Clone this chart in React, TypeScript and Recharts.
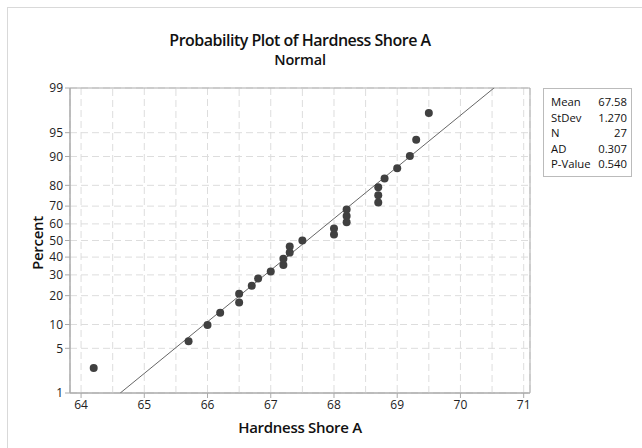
import { ScatterChart, Scatter, XAxis, YAxis, CartesianGrid, ReferenceLine, ReferenceArea } from 'recharts';

// sorted hardness readings and their plotted percent positions
const hardness = [
  64.2, 65.7, 66.0, 66.2, 66.5, 66.5, 66.7, 66.8, 67.0, 67.2, 67.2, 67.3, 67.3, 67.5,
  68.0, 68.0, 68.2, 68.2, 68.2, 68.7, 68.7, 68.7, 68.8, 69.0, 69.2, 69.3, 69.5,
];
const percent = [
  2.6, 6.2, 9.9, 13.5, 17.2, 20.8, 24.5, 28.1, 31.8, 35.4, 39.1, 42.7, 46.4, 50.0,
  53.6, 57.3, 60.9, 64.6, 68.2, 71.9, 75.5, 79.2, 82.8, 86.5, 90.1, 93.8, 97.4,
];
// fitted normal line end points (percent 1 and 99)
const fitX = [64.62, 70.53];
const fitPct = [1, 99];

const xTicks = [64, 65, 66, 67, 68, 69, 70, 71];
const xHalfGrid = [64.5, 65.5, 66.5, 67.5, 68.5, 69.5, 70.5];
const pctTicks = [1, 5, 10, 20, 30, 40, 50, 60, 70, 80, 90, 95, 99];

const stats = [
  ['Mean', '67.58'],
  ['StDev', '1.270'],
  ['N', '27'],
  ['AD', '0.307'],
  ['P-Value', '0.540'],
];

// inverse standard normal (Acklam)
function invNorm(p: number) {
  const a = [-39.69683028665376, 220.9460984245205, -275.9285104469687, 138.357751867269, -30.66479806614716, 2.506628277459239];
  const b = [-54.47609879822406, 161.5858368580409, -155.6989798598866, 66.80131188771972, -13.28068155288572];
  const c = [-0.007784894002430293, -0.3223964580411365, -2.400758277161838, -2.549732539343734, 4.374664141464968, 2.938163982698783];
  const d = [0.007784695709041462, 0.3224671290700398, 2.445134137142996, 3.754408661907416];
  const pl = 0.02425;
  if (p < pl) {
    const q = Math.sqrt(-2 * Math.log(p));
    return (((((c[0] * q + c[1]) * q + c[2]) * q + c[3]) * q + c[4]) * q + c[5]) / ((((d[0] * q + d[1]) * q + d[2]) * q + d[3]) * q + 1);
  }
  if (p > 1 - pl) {
    const q = Math.sqrt(-2 * Math.log(1 - p));
    return -(((((c[0] * q + c[1]) * q + c[2]) * q + c[3]) * q + c[4]) * q + c[5]) / ((((d[0] * q + d[1]) * q + d[2]) * q + d[3]) * q + 1);
  }
  const q = p - 0.5;
  const r = q * q;
  return ((((((a[0] * r + a[1]) * r + a[2]) * r + a[3]) * r + a[4]) * r + a[5]) * q) / (((((b[0] * r + b[1]) * r + b[2]) * r + b[3]) * r + b[4]) * r + 1);
}

const z = (pct: number) => invNorm(pct / 100);
const points = hardness.map((x, i) => ({ x, y: z(percent[i]) }));
const fit = fitX.map((x, i) => ({ x, y: z(fitPct[i]) }));
const yTicks = pctTicks.map(z);
const yMin = z(1);
const yMax = z(99);
const xMin = 63.825;
const xMax = 71.1;

const font = '"Segoe UI", "Open Sans", sans-serif';
const tickStyle = { fill: '#222', fontSize: 12, fontFamily: font };

export default function App() {
  return (
    <div style={{ position: 'absolute', left: 0, top: 0, width: 642, height: 448, background: '#fff', fontFamily: font, color: '#111' }}>
      <div style={{ position: 'absolute', left: 7, top: 7, right: 0, bottom: 0, borderLeft: '1px solid #d9d9d9', borderTop: '1px solid #d9d9d9' }} />
      <div style={{ position: 'absolute', left: 0, width: 600, top: 28, textAlign: 'center', fontSize: 16, fontWeight: 600, letterSpacing: -0.5, lineHeight: '24px' }}>
        Probability Plot of Hardness Shore A
      </div>
      <div style={{ position: 'absolute', left: 0, width: 600, top: 50, textAlign: 'center', fontSize: 14.5, fontWeight: 600, letterSpacing: -0.2, lineHeight: '20px' }}>
        Normal
      </div>
      <div style={{ position: 'absolute', left: 37, top: 243, transform: 'translate(-50%, -50%) rotate(-90deg)', fontSize: 15, fontWeight: 600, letterSpacing: -0.3, whiteSpace: 'nowrap' }}>
        Percent
      </div>
      <div style={{ position: 'absolute', left: 0, width: 600, top: 416, textAlign: 'center', fontSize: 15, fontWeight: 600, letterSpacing: -0.3, lineHeight: '22px' }}>
        Hardness Shore A
      </div>
      <div style={{ position: 'absolute', left: 543, top: 88, width: 89, height: 89, border: '1px solid #bbb', boxSizing: 'border-box', padding: '5px 4px 0 7px', fontSize: 11.3, color: '#111' }}>
        {stats.map(([k, v]) => (
          <div key={k} style={{ display: 'flex', justifyContent: 'space-between', lineHeight: '15.6px' }}>
            <span>{k}</span>
            <span>{v}</span>
          </div>
        ))}
      </div>
      <ScatterChart width={642} height={448} margin={{ top: 88, right: 112, bottom: 0, left: 0 }} style={{ position: 'absolute', left: 0, top: 0 }}>
        <CartesianGrid stroke="#dddddd" strokeDasharray="7 4" />
        {xHalfGrid.map((v) => (
          <ReferenceLine key={v} x={v} stroke="#dddddd" strokeDasharray="7 4" />
        ))}
        <XAxis
          type="number"
          dataKey="x"
          domain={[xMin, xMax]}
          ticks={xTicks}
          interval={0}
          allowDataOverflow
          height={55}
          tick={tickStyle}
          tickLine={{ stroke: '#aaa' }}
          axisLine={{ stroke: '#aaa' }}
          tickSize={5}
        />
        <YAxis
          type="number"
          dataKey="y"
          domain={[yMin, yMax]}
          ticks={yTicks}
          interval={0}
          allowDataOverflow
          width={70}
          tick={tickStyle}
          tickLine={{ stroke: '#aaa' }}
          axisLine={{ stroke: '#aaa' }}
          tickSize={5}
          tickFormatter={(v: number) => String(pctTicks[yTicks.indexOf(v)] ?? '')}
        />
        <ReferenceArea x1={xMin} x2={xMax} y1={yMin} y2={yMax} fill="none" stroke="#aaa" strokeWidth={1} fillOpacity={0} />
        <Scatter data={fit} line={{ stroke: '#666', strokeWidth: 1 }} shape={() => <g />} isAnimationActive={false} />
        <Scatter data={points} fill="#404040" shape={(p: any) => <circle cx={p.cx} cy={p.cy} r={4} fill="#404040" />} isAnimationActive={false} />
      </ScatterChart>
    </div>
  );
}
